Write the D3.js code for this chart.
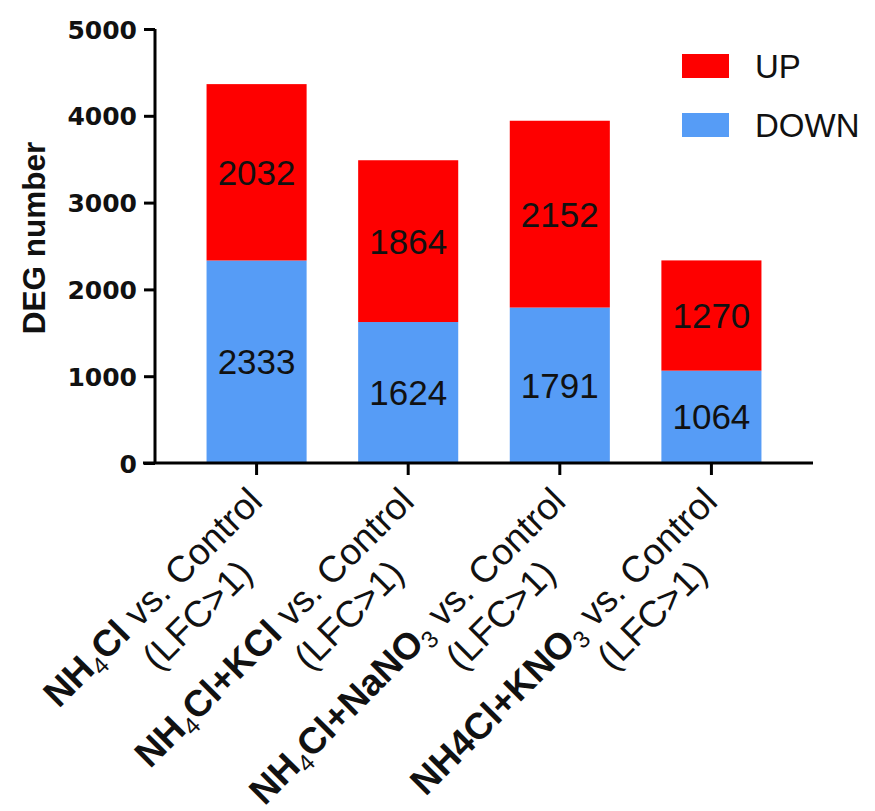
<!DOCTYPE html>
<html>
<head>
<meta charset="utf-8">
<script src="https://cdn.jsdelivr.net/npm/d3@7"></script>
<style>
  html, body { margin: 0; padding: 0; background: #fff; }
  svg { display: block; }
</style>
</head>
<body>
<svg id="chart" width="875" height="811"></svg>
<script>
// Treatments compared against the control; "_x" marks a subscript digit
const categories = ["NH_4Cl", "NH_4Cl+KCl", "NH_4Cl+NaNO_3", "NH4Cl+KNO_3"];
const comparisonText = " vs. Control";
const thresholdText = "(LFC>1)";

// Differentially expressed gene counts per comparison
const seriesNames = ["DOWN", "UP"];
const downValues = [2333, 1624, 1791, 1064];
const upValues = [2032, 1864, 2152, 1270];

const yTicks = [0, 1000, 2000, 3000, 4000, 5000];
const yTitle = "DEG number";

const colors = { UP: "#fe0000", DOWN: "#569cf6" };

const svg = d3.select("#chart");

const plot = { left: 155, right: 813, top: 29, bottom: 463 };

const x = d3.scaleBand()
  .domain(categories)
  .range([plot.left, plot.right])
  .paddingInner(0.34)
  .paddingOuter(0.34);

const y = d3.scaleLinear()
  .domain([0, 5000])
  .range([plot.bottom, plot.top]);

const table = categories.map((c, i) => ({ category: c, DOWN: downValues[i], UP: upValues[i] }));
const stacked = d3.stack().keys(seriesNames)(table);

// Stacked bars
const layers = svg.append("g").selectAll("g")
  .data(stacked)
  .join("g")
  .attr("fill", d => colors[d.key]);

layers.selectAll("rect")
  .data(d => d)
  .join("rect")
  .attr("x", d => x(d.data.category))
  .attr("width", x.bandwidth())
  .attr("y", d => y(d[1]))
  .attr("height", d => y(d[0]) - y(d[1]));

// Value labels centred in each segment
const labels = svg.append("g")
  .attr("font-family", "'Liberation Sans', Arial, sans-serif")
  .attr("font-size", 35)
  .attr("fill", "#111")
  .attr("text-anchor", "middle");

stacked.forEach(layer => {
  labels.selectAll(null)
    .data(layer)
    .join("text")
    .attr("x", d => x(d.data.category) + x.bandwidth() / 2)
    .attr("y", d => (y(d[0]) + y(d[1])) / 2)
    .attr("dy", "0.36em")
    .text(d => d.data[layer.key]);
});

// Y axis
const yAxis = svg.append("g")
  .attr("transform", `translate(${plot.left},0)`)
  .call(d3.axisLeft(y).tickValues(yTicks).tickSize(11).tickPadding(7).tickFormat(d3.format("d")));

yAxis.select(".domain").attr("stroke", "#000").attr("stroke-width", 3)
  .attr("d", `M0,${plot.top}V${plot.bottom}`);
yAxis.selectAll(".tick line").attr("stroke", "#000").attr("stroke-width", 3);
yAxis.selectAll(".tick text")
  .attr("font-family", "'DejaVu Sans', Verdana, sans-serif")
  .attr("font-weight", "bold")
  .attr("font-size", 25)
  .attr("fill", "#111")
  .attr("dy", "0.36em");

// X axis
const xAxis = svg.append("g")
  .attr("transform", `translate(0,${plot.bottom})`)
  .call(d3.axisBottom(x).tickSize(12).tickFormat(() => ""));

xAxis.select(".domain").attr("stroke", "#000").attr("stroke-width", 3)
  .attr("d", `M${plot.left - 12},0H${plot.right}`);
xAxis.selectAll(".tick line").attr("stroke", "#000").attr("stroke-width", 3);

// Rotated two-line category labels
const xLabels = svg.append("g")
  .attr("font-family", "'Liberation Sans', Arial, sans-serif")
  .attr("font-size", 37)
  .attr("fill", "#111");

function parseFormula(s) {
  const parts = [];
  let i = 0;
  while (i < s.length) {
    if (s[i] === "_") { parts.push({ t: s[i + 1], sub: true }); i += 2; }
    else {
      let j = i;
      while (j < s.length && s[j] !== "_") j++;
      parts.push({ t: s.slice(i, j), sub: false });
      i = j;
    }
  }
  return parts;
}

categories.forEach(c => {
  const g = xLabels.append("g")
    .attr("transform", `translate(${x(c) + x.bandwidth() / 2},${plot.bottom}) rotate(-45)`);

  const line1 = g.append("text")
    .attr("x", -23)
    .attr("y", 34)
    .attr("text-anchor", "end");

  let shifted = false;
  parseFormula(c).forEach(p => {
    const ts = line1.append("tspan").attr("font-weight", p.sub ? "normal" : "bold").text(p.t);
    if (p.sub) { ts.attr("font-size", 24).attr("dy", 7); shifted = true; }
    else if (shifted) { ts.attr("dy", -7); shifted = false; }
  });
  const rest = line1.append("tspan").attr("font-weight", "normal").text(comparisonText);
  if (shifted) rest.attr("dy", -7);

  g.append("text")
    .attr("x", -81)
    .attr("y", 78)
    .attr("text-anchor", "end")
    .text(thresholdText);
});

// Y axis title
svg.append("text")
  .attr("transform", `translate(45,238) rotate(-90)`)
  .attr("text-anchor", "middle")
  .attr("font-family", "'Liberation Sans', Arial, sans-serif")
  .attr("font-weight", "bold")
  .attr("font-size", 31.5)
  .attr("fill", "#111")
  .text(yTitle);

// Legend
const legendKeys = ["UP", "DOWN"];
const legend = svg.append("g")
  .attr("font-family", "'Liberation Sans', Arial, sans-serif")
  .attr("font-size", 33)
  .attr("fill", "#111");

legendKeys.forEach((k, i) => {
  const row = legend.append("g").attr("transform", `translate(682,${54 + i * 59})`);
  row.append("rect").attr("width", 47).attr("height", 24).attr("fill", colors[k]);
  row.append("text").attr("x", 73).attr("y", 23.5).text(k);
});
</script>
</body>
</html>
